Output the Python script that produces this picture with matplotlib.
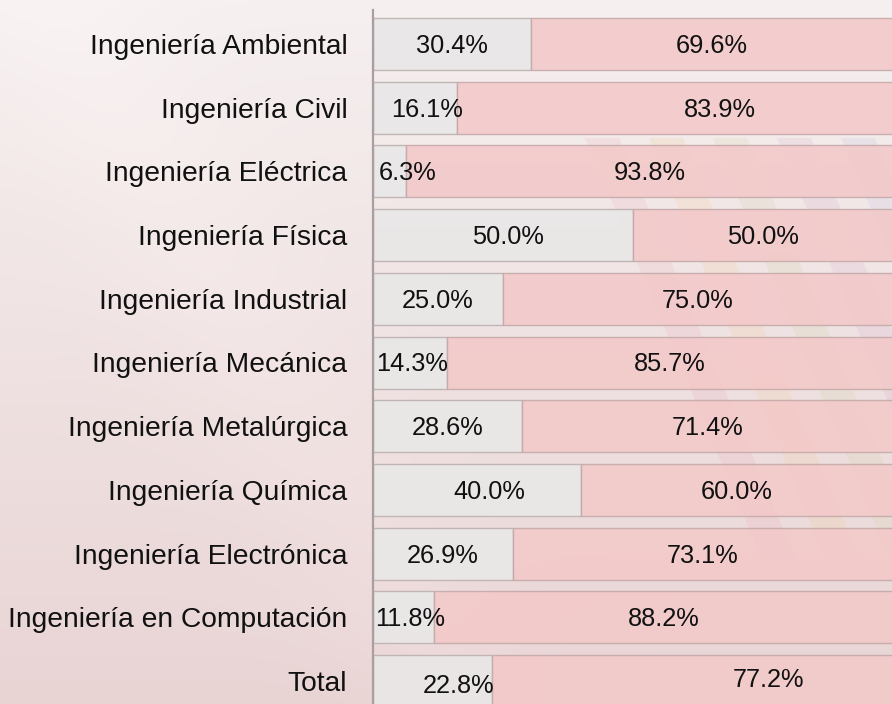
import numpy as np
import matplotlib
matplotlib.use("Agg")
import matplotlib.pyplot as plt
from matplotlib.patches import Polygon

# Share of each programme split in two groups (percent)
categories = [
    "Ingeniería Ambiental",
    "Ingeniería Civil",
    "Ingeniería Eléctrica",
    "Ingeniería Física",
    "Ingeniería Industrial",
    "Ingeniería Mecánica",
    "Ingeniería Metalúrgica",
    "Ingeniería Química",
    "Ingeniería Electrónica",
    "Ingeniería en Computación",
    "Total",
]
group_a = [30.4, 16.1, 6.3, 50.0, 25.0, 14.3, 28.6, 40.0, 26.9, 11.8, 22.8]
group_b = [69.6, 83.9, 93.8, 50.0, 75.0, 85.7, 71.4, 60.0, 73.1, 88.2, 77.2]

# Manual nudges for a few data labels (x in percent units, y in row units)
nudge_a = {1: (2.3, 0.0), 2: (3.5, 0.0), 3: (1.0, 0.0), 5: (0.3, 0.0), 7: (2.3, 0.0),
           9: (1.3, 0.0), 10: (5.0, 0.05)}
nudge_b = {1: (8.7, 0.0), 10: (14.6, -0.05)}

W, H = 892, 704
fig = plt.figure(figsize=(W / 100, H / 100), dpi=100)

# Background: soft pink gradient with faint diagonal ribbons
bg = fig.add_axes([0, 0, 1, 1], zorder=0)
bg.set_xlim(0, W)
bg.set_ylim(H, 0)
bg.axis("off")
yy, xx = np.mgrid[0:H, 0:W]
t = yy / H
d = np.clip((xx - 0.6 * yy) / W, -1, 1)
top = np.array([246, 240, 240]) / 255
bot = np.array([233, 212, 212]) / 255
img = top[None, None, :] * (1 - t[..., None]) + bot[None, None, :] * t[..., None]
img = img + 0.012 * np.exp(-((d - 0.05) / 0.12) ** 2)[..., None]
img = np.clip(img, 0, 1)
bg.imshow(img, extent=(0, W, H, 0), aspect="auto", interpolation="bilinear")

ribbons = ["#e8a8b8", "#f0c890", "#c8d0a0", "#d0a8c8", "#b8c0e0"]
for k, c in enumerate(ribbons):
    x0 = 585 + k * 64
    y0, y1 = 138, 560
    w = 34
    slope = 0.42
    poly = Polygon([(x0, y0), (x0 + w, y0),
                    (x0 + w + slope * (y1 - y0), y1), (x0 + slope * (y1 - y0), y1)],
                   closed=True, facecolor=c, edgecolor="none", alpha=0.18)
    bg.add_patch(poly)

# Main stacked bar axes
pitch = 63.7
row0 = 44.0
ax = fig.add_axes([373 / W, 0, 520 / W, 1], zorder=1)
ax.patch.set_alpha(0)
ax.set_xlim(0, 100)
ax.set_ylim((H - row0) / pitch, -row0 / pitch)

ypos = np.arange(len(categories))
bar_h = 52 / pitch
ax.barh(ypos, group_a, height=bar_h, color="#e9e7e7", edgecolor="#bdb3b3",
        linewidth=1.0, alpha=0.93)
ax.barh(ypos, group_b, left=group_a, height=bar_h, color="#f3c9c9",
        edgecolor="#c4a9a9", linewidth=1.0, alpha=0.88)

value_font = dict(family=["Liberation Sans", "DejaVu Sans"],
                  fontsize=18.3, color="#111111")
for i in range(len(categories)):
    a, b = group_a[i], group_b[i]
    dxa, dya = nudge_a.get(i, (0.0, 0.0))
    dxb, dyb = nudge_b.get(i, (0.0, 0.0))
    ax.text(a / 2 + dxa, i + dya + 0.03, f"{a:.1f}%", ha="center", va="center", **value_font)
    ax.text(a + b / 2 + dxb, i + dyb + 0.03, f"{b:.1f}%", ha="center", va="center", **value_font)

ax.set_yticks(ypos)
ax.set_yticklabels(categories, fontsize=20.3, family=["Liberation Sans", "DejaVu Sans"],
                   color="#111111")
ax.tick_params(axis="y", length=0, pad=18.5)
ax.set_xticks([])
for s in ["top", "right", "bottom"]:
    ax.spines[s].set_visible(False)
ax.spines["left"].set_color("#a8a0a0")
ax.spines["left"].set_linewidth(1.6)
ax.spines["left"].set_bounds((10 - row0) / pitch, (H - row0) / pitch)

fig.savefig("out.png", dpi=100)
